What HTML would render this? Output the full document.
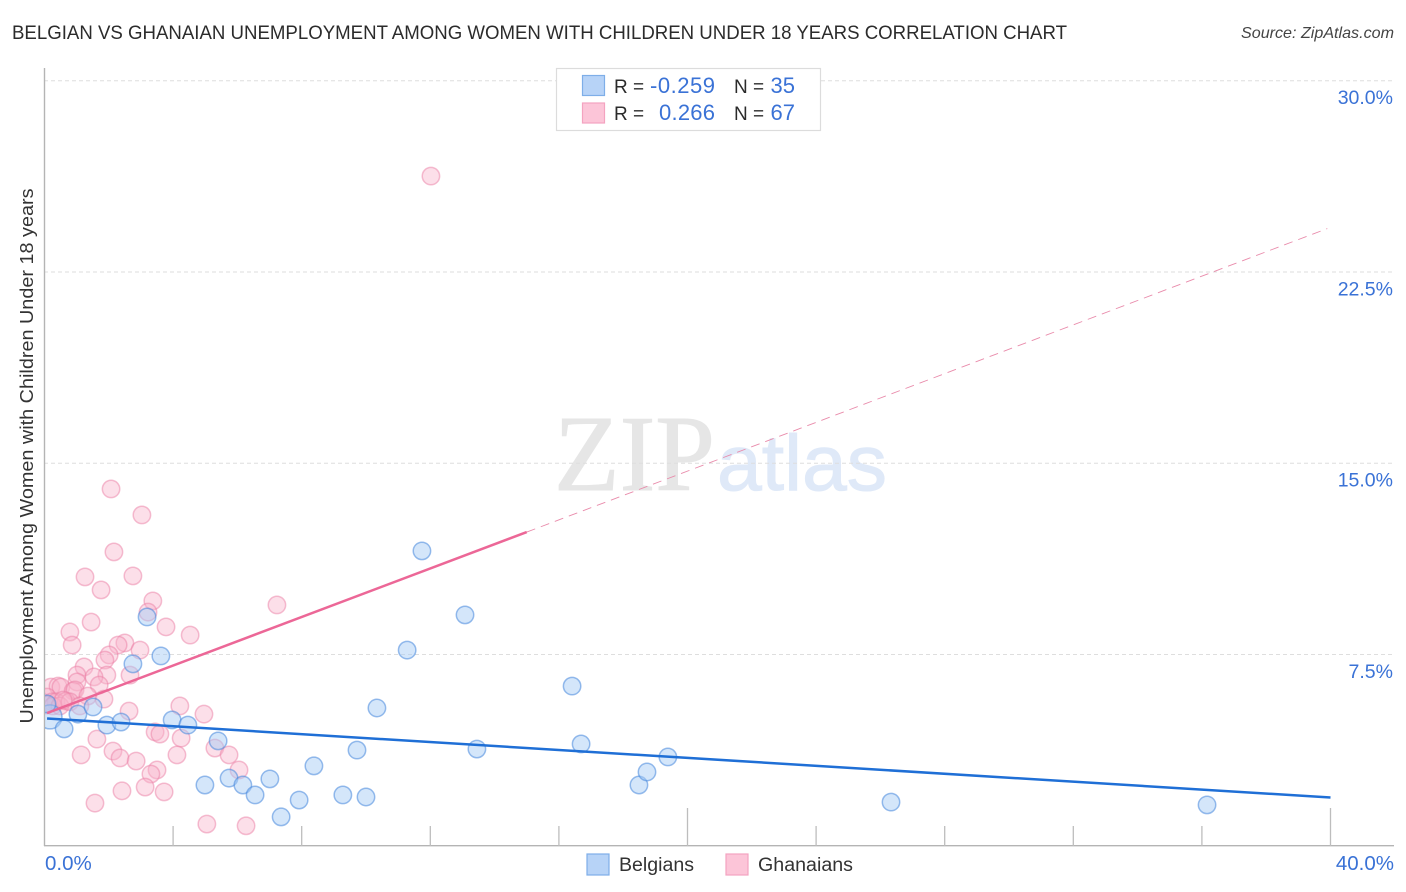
<!DOCTYPE html>
<html lang="en">
<head>
<meta charset="utf-8">
<title>Belgian vs Ghanaian Unemployment Correlation Chart</title>
<style>
html,body{margin:0;padding:0;background:#fff;width:1406px;height:892px;overflow:hidden}
svg{display:block;font-family:"Liberation Sans",sans-serif}
</style>
</head>
<body>
<svg id="chart" width="1406" height="892" viewBox="0 0 1406 892" xmlns="http://www.w3.org/2000/svg">
  <defs>
    <clipPath id="plot-clip"><rect x="45" y="60" width="1360" height="786"/></clipPath>
  </defs>
  <text x="12" y="39" font-size="19" fill="#2b2b2b" textLength="1055" lengthAdjust="spacingAndGlyphs">BELGIAN VS GHANAIAN UNEMPLOYMENT AMONG WOMEN WITH CHILDREN UNDER 18 YEARS CORRELATION CHART</text>
  <text x="1394" y="38" font-size="16" font-style="italic" fill="#444" text-anchor="end" textLength="153" lengthAdjust="spacingAndGlyphs">Source: ZipAtlas.com</text>

  <text x="554" y="490" font-family="'Liberation Serif',serif" font-size="108" fill="#e6e6e6" stroke="#e6e6e6" stroke-width="1" textLength="161" lengthAdjust="spacingAndGlyphs">ZIP</text>
  <text x="717" y="490" font-size="79" fill="#dfe9f8" stroke="#dfe9f8" stroke-width="1" textLength="170" lengthAdjust="spacingAndGlyphs">atlas</text>

  <g id="grid"></g>
  <g id="axes"></g>
  <g clip-path="url(#plot-clip)">
    <g id="ghanaian-points"></g>
    <g id="belgian-points"></g>
  </g>
  <g id="trends"></g>
  <g id="tick-labels"></g>

  <text transform="translate(33,456) rotate(-90)" font-size="18.6" fill="#333" text-anchor="middle" textLength="535" lengthAdjust="spacingAndGlyphs">Unemployment Among Women with Children Under 18 years</text>

  <g>
    <rect x="556.5" y="68.5" width="264" height="62" fill="#fff" stroke="#dcdcdc" stroke-width="1.2"/>
    <rect x="582.5" y="75.5" width="22" height="20" fill="#b7d3f7" stroke="#7eaee8" stroke-width="1.2"/>
    <rect x="582.5" y="103" width="22" height="20" fill="#fcc5d8" stroke="#f4a3c0" stroke-width="1.2"/>
    <g font-size="20" fill="#2b2b2b">
      <text x="614" y="93" font-size="19">R =</text>
      <text x="715" y="93" text-anchor="end" fill="#3a72d6" font-size="22" textLength="65" lengthAdjust="spacing">-0.259</text>
      <text x="734" y="93" font-size="19">N =</text>
      <text x="795" y="93" text-anchor="end" fill="#3a72d6" font-size="22">35</text>
      <text x="614" y="120" font-size="19">R =</text>
      <text x="715" y="120" text-anchor="end" fill="#3a72d6" font-size="22" textLength="56" lengthAdjust="spacing">0.266</text>
      <text x="734" y="120" font-size="19">N =</text>
      <text x="795" y="120" text-anchor="end" fill="#3a72d6" font-size="22">67</text>
    </g>
  </g>

  <g>
    <rect x="587" y="854" width="22" height="21" fill="#b7d3f7" stroke="#7eaee8" stroke-width="1.2"/>
    <text x="619" y="871" font-size="19" fill="#333" textLength="75" lengthAdjust="spacingAndGlyphs">Belgians</text>
    <rect x="726" y="854" width="22" height="21" fill="#fcc5d8" stroke="#f4a3c0" stroke-width="1.2"/>
    <text x="758" y="871" font-size="19" fill="#333" textLength="95" lengthAdjust="spacingAndGlyphs">Ghanaians</text>
  </g>
</svg>
<script>
const belgianX = [0.17,0.08,0.61,1.04,1.51,1.94,2.38,3.19,2.75,3.62,3.97,4.46,5.40,4.99,5.74,6.17,6.55,7.01,7.92,8.38,9.28,10.0,7.36,9.72,10.34,11.28,11.74,13.08,13.45,16.41,16.69,18.49,18.74,19.39,26.33,36.16];
const belgianY = [5.05,5.56,4.58,5.16,5.44,4.73,4.85,8.97,7.13,7.44,4.93,4.73,4.11,2.38,2.65,2.38,1.99,2.62,1.79,3.13,1.99,1.91,1.13,3.75,5.40,7.67,11.56,9.05,3.79,6.26,3.99,2.38,2.89,3.48,1.71,1.60];
const ghanaianX = [12.02,2.07,3.03,2.16,1.26,2.75,1.76,3.37,3.22,7.23,1.45,3.78,4.53,0.79,0.86,2.50,2.29,2.97,2.01,1.88,1.23,1.01,1.94,1.54,2.66,1.01,1.70,0.20,0.42,0.51,0.89,0.95,1.35,1.85,0.08,0.23,0.36,0.67,0.05,0.26,0.48,0.79,1.10,2.63,4.21,4.96,1.63,3.44,3.59,4.25,1.14,2.13,2.35,2.85,4.12,5.30,5.74,6.05,3.50,3.31,2.41,3.13,3.72,1.57,5.05,6.27,0.58];
const ghanaianY = [26.26,13.99,12.97,11.52,10.54,10.58,10.03,9.60,9.16,9.44,8.77,8.58,8.26,8.38,7.87,7.95,7.87,7.67,7.48,7.28,7.01,6.69,6.69,6.62,6.69,6.42,6.30,6.22,6.26,6.22,6.07,6.11,5.87,5.75,5.83,5.64,5.64,5.67,5.52,5.48,5.48,5.64,5.48,5.28,5.48,5.16,4.18,4.46,4.38,4.22,3.56,3.71,3.44,3.32,3.56,3.83,3.56,2.97,2.97,2.81,2.15,2.30,2.11,1.67,0.85,0.78,5.71];
const belgianLargePointIndex = 0;
const belgianTrendX = [0.08,40];
const belgianTrendY = [4.99,1.89];
const ghanaianTrendSolidX = [0.08,15];
const ghanaianTrendSolidY = [5.2,12.3];
const ghanaianTrendDashX = [15,39.9];
const ghanaianTrendDashY = [12.3,24.2];
const yTickValues = [7.5,15,22.5,30];
const yTickLabels = ['7.5%','15.0%','22.5%','30.0%'];
const xMinorTicks = [4,8,12,16,24,28,32,36];
const xMajorTicks = [20,40];
const xLabelValues = [0,40];
const xLabelText = ['0.0%','40.0%'];

const xScale = function (v) { return 44.5 + v * 32.15; };
const yScale = function (v) { return 845.7 - v * 25.5; };
const NS = 'http://www.w3.org/2000/svg';
function make(tag, attrs, parent) {
  const el = document.createElementNS(NS, tag);
  Object.keys(attrs).forEach(function (k) { el.setAttribute(k, attrs[k]); });
  parent.appendChild(el);
  return el;
}
const gridG = document.getElementById('grid');
const axesG = document.getElementById('axes');
const labelsG = document.getElementById('tick-labels');
const belgianG = document.getElementById('belgian-points');
const ghanaianG = document.getElementById('ghanaian-points');
const trendsG = document.getElementById('trends');

yTickValues.forEach(function (v, i) {
  const gl = make('line', {x1: 44, x2: 1394, y1: yScale(v), y2: yScale(v), stroke: '#dedede', 'stroke-width': 1, 'stroke-dasharray': '4 3'}, gridG);
  
  
  const t = make('text', {x: 1393, y: yScale(v) + 23.5, 'text-anchor': 'end', 'font-size': 19.5, fill: '#3a72d6'}, labelsG);
  t.textContent = yTickLabels[i];
  
  
});

const yAxis = make('line', {x1: 44.5, x2: 44.5, y1: 68, y2: 846, stroke: '#b4b4b4', 'stroke-width': 1.4}, axesG);


const xAxis = make('line', {x1: 44, x2: 1394, y1: 845.7, y2: 845.7, stroke: '#b4b4b4', 'stroke-width': 1.4}, axesG);



xMinorTicks.forEach(function (v) {
  const tk = make('line', {x1: xScale(v), x2: xScale(v), y1: 826, y2: 846, stroke: '#bdbdbd', 'stroke-width': 1.3}, axesG);
  
  
});
xMajorTicks.forEach(function (v) {
  const tk = make('line', {x1: xScale(v), x2: xScale(v), y1: 808, y2: 846, stroke: '#bdbdbd', 'stroke-width': 1.3}, axesG);
  
  
});
xLabelValues.forEach(function (v, i) {
  const first = i === 0;
  const t = make('text', {x: first ? 45 : 1394, y: 870, 'text-anchor': first ? 'start' : 'end', 'font-size': 20.5, fill: '#3a72d6'}, labelsG);
  t.textContent = xLabelText[i];
  
  
});

ghanaianX.forEach(function (v, i) {
  const c = make('circle', {cx: xScale(v), cy: yScale(ghanaianY[i]), r: 8.7, fill: 'rgba(248,178,202,0.42)', stroke: 'rgba(236,128,166,0.5)', 'stroke-width': 1.5}, ghanaianG);
  
  
});
belgianX.forEach(function (v, i) {
  const c = make('circle', {cx: xScale(v), cy: yScale(belgianY[i]), r: i === belgianLargePointIndex ? 12 : 8.7, fill: 'rgba(165,202,245,0.48)', stroke: 'rgba(70,135,220,0.55)', 'stroke-width': 1.5}, belgianG);
  
  
});

const dashLine = make('line', {x1: xScale(ghanaianTrendDashX[0]), y1: yScale(ghanaianTrendDashY[0]), x2: xScale(ghanaianTrendDashX[1]), y2: yScale(ghanaianTrendDashY[1]), stroke: '#e98bab', 'stroke-width': 0.9, 'stroke-dasharray': '9 6'}, trendsG);


const blueLine = make('line', {x1: xScale(belgianTrendX[0]), y1: yScale(belgianTrendY[0]), x2: xScale(belgianTrendX[1]), y2: yScale(belgianTrendY[1]), stroke: '#1f6fd6', 'stroke-width': 2.5}, trendsG);


const pinkLine = make('line', {x1: xScale(ghanaianTrendSolidX[0]), y1: yScale(ghanaianTrendSolidY[0]), x2: xScale(ghanaianTrendSolidX[1]), y2: yScale(ghanaianTrendSolidY[1]), stroke: '#ec6797', 'stroke-width': 2.5}, trendsG);


</script>
</body>
</html>
